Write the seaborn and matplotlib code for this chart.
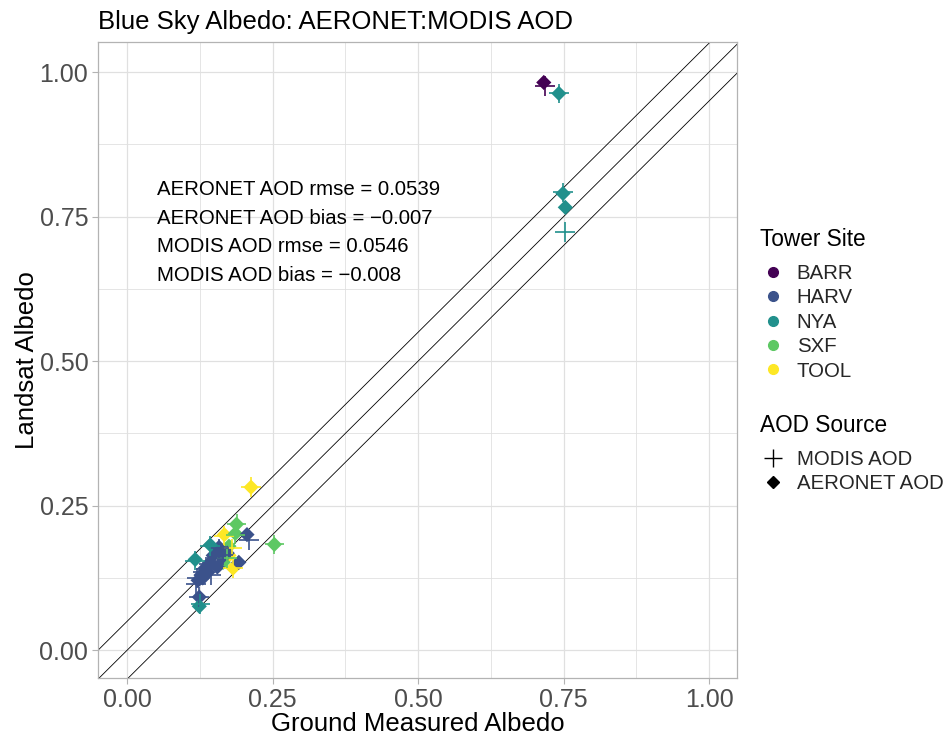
import matplotlib
matplotlib.use("Agg")
import matplotlib.pyplot as plt
from matplotlib.lines import Line2D
import seaborn as sns
import pandas as pd
import numpy as np

sites = ["BARR", "HARV", "NYA", "SXF", "TOOL"]
palette = ["#440154", "#3B528B", "#21908C", "#5DC863", "#FDE725"]

# AERONET AOD observations
aer_site = ["BARR", "NYA", "NYA", "NYA",
            "TOOL", "TOOL", "TOOL", "TOOL",
            "SXF", "SXF", "SXF", "SXF", "SXF",
            "HARV", "HARV", "HARV", "HARV", "HARV", "HARV", "HARV", "HARV", "HARV",
            "HARV", "HARV", "HARV", "HARV", "HARV",
            "NYA", "NYA", "NYA"]
aer_ground = [0.716, 0.742, 0.749, 0.753,
              0.213, 0.167, 0.182, 0.175,
              0.188, 0.186, 0.175, 0.253, 0.165,
              0.206, 0.158, 0.192, 0.148, 0.143, 0.134, 0.127, 0.122, 0.155,
              0.139, 0.163, 0.172, 0.124, 0.130,
              0.143, 0.117, 0.124]
aer_landsat = [0.982, 0.963, 0.790, 0.766,
               0.282, 0.200, 0.142, 0.164,
               0.218, 0.202, 0.180, 0.183, 0.152,
               0.200, 0.178, 0.152, 0.164, 0.152, 0.142, 0.130, 0.121, 0.144,
               0.135, 0.161, 0.168, 0.092, 0.125,
               0.182, 0.157, 0.076]

# MODIS AOD observations
mod_site = ["BARR", "NYA", "NYA", "NYA",
            "TOOL", "TOOL", "TOOL", "TOOL",
            "SXF", "SXF", "SXF", "SXF",
            "HARV", "HARV", "HARV", "HARV", "HARV", "HARV", "HARV", "HARV",
            "HARV", "HARV", "HARV",
            "NYA", "NYA", "NYA"]
mod_ground = [0.718, 0.742, 0.749, 0.753,
              0.213, 0.167, 0.180, 0.182,
              0.188, 0.186, 0.253, 0.172,
              0.210, 0.158, 0.140, 0.130, 0.120, 0.150, 0.165, 0.124,
              0.135, 0.145, 0.118,
              0.143, 0.117, 0.126]
mod_landsat = [0.976, 0.963, 0.792, 0.723,
               0.282, 0.198, 0.176, 0.142,
               0.218, 0.200, 0.183, 0.160,
               0.190, 0.176, 0.150, 0.135, 0.125, 0.160, 0.165, 0.092,
               0.140, 0.130, 0.115,
               0.180, 0.155, 0.080]

stats_lines = ["AERONET AOD rmse = 0.0539",
               "AERONET AOD bias = \u22120.007",
               "MODIS AOD rmse = 0.0546",
               "MODIS AOD bias = \u22120.008"]
ticks = [0.0, 0.25, 0.5, 0.75, 1.0]
tick_labels = ["0.00", "0.25", "0.50", "0.75", "1.00"]

aer = pd.DataFrame({"site": aer_site, "ground": aer_ground, "landsat": aer_landsat})
mod = pd.DataFrame({"site": mod_site, "ground": mod_ground, "landsat": mod_landsat})

sns.set_theme(style="white")
plt.rcParams["font.family"] = ["Liberation Sans", "DejaVu Sans"]

W, H = 952, 738
fig = plt.figure(figsize=(W / 100, H / 100), dpi=100)
ax = fig.add_axes([98 / W, 60 / H, (737 - 98) / W, (678 - 42) / H])

ax.set_xlim(-0.05, 1.048)
ax.set_ylim(-0.048, 1.052)

# grid
for v in np.arange(0, 1.01, 0.125):
    ax.axvline(v, color="#E0E0E0", lw=0.9 if v in ticks else 0.6, zorder=0)
    ax.axhline(v, color="#E0E0E0", lw=0.9 if v in ticks else 0.6, zorder=0)

# 1:1 and +/- 0.05 lines
xs = np.array([-0.2, 1.2])
for off in (0.05, 0.0, -0.05):
    ax.plot(xs, xs + off, color="black", lw=0.6, zorder=1)

pal = dict(zip(sites, palette))
sns.scatterplot(data=aer, x="ground", y="landsat", hue="site", palette=pal,
                hue_order=sites, marker="D", s=60, linewidth=0, legend=False,
                ax=ax, zorder=3)
sns.scatterplot(data=mod, x="ground", y="landsat", hue="site", palette=pal,
                hue_order=sites, marker="+", s=200, linewidth=1.2, legend=False,
                ax=ax, zorder=3)

for i, t in enumerate(stats_lines):
    ax.text(0.052, 0.797 - i * 0.0495, t, fontsize=14.7, color="black",
            ha="left", va="center")

ax.set_xticks(ticks)
ax.set_xticklabels(tick_labels)
ax.set_yticks(ticks)
ax.set_yticklabels(tick_labels)
ax.tick_params(axis="both", labelsize=18, colors="#B3B3B3", labelcolor="#4D4D4D",
               length=4, width=0.8, direction="out", pad=3)
ax.tick_params(axis="both", which="both", bottom=True, left=True)
for sp in ax.spines.values():
    sp.set_color("#B3B3B3")
    sp.set_linewidth(0.9)

ax.set_xlabel("Ground Measured Albedo", fontsize=18.5, color="black", labelpad=0)
ax.set_ylabel("Landsat Albedo", fontsize=18.5, color="black", labelpad=0.5)
ax.set_title("Blue Sky Albedo: AERONET:MODIS AOD", fontsize=18.5, loc="left",
             color="black", pad=9)

# legends (titles drawn as separate text for exact spacing)
fig.text(760 / W, 1 - 240 / H, "Tower Site", fontsize=16.3, color="black",
         ha="left", va="center")
site_handles = [Line2D([], [], marker="o", ls="", color=c, markersize=7) for c in palette]
fig.legend(site_handles, sites, loc="upper left",
           bbox_to_anchor=(760.5 / W, 1 - 264 / H), frameon=False,
           fontsize=14.7, handletextpad=0.58, labelspacing=0.265,
           handlelength=1.2, borderpad=0, borderaxespad=0)

fig.text(760 / W, 1 - 425 / H, "AOD Source", fontsize=16.3, color="black",
         ha="left", va="center")
aod_handles = [Line2D([], [], marker="+", ls="", color="black", markersize=13, markeredgewidth=1.0),
               Line2D([], [], marker="D", ls="", color="black", markersize=6)]
fig.legend(aod_handles, ["MODIS AOD", "AERONET AOD"], loc="upper left",
           bbox_to_anchor=(760.5 / W, 1 - 450 / H), frameon=False,
           fontsize=14.7, handletextpad=0.58, labelspacing=0.24,
           handlelength=1.2, borderpad=0, borderaxespad=0)

fig.savefig("out.png", dpi=100)
